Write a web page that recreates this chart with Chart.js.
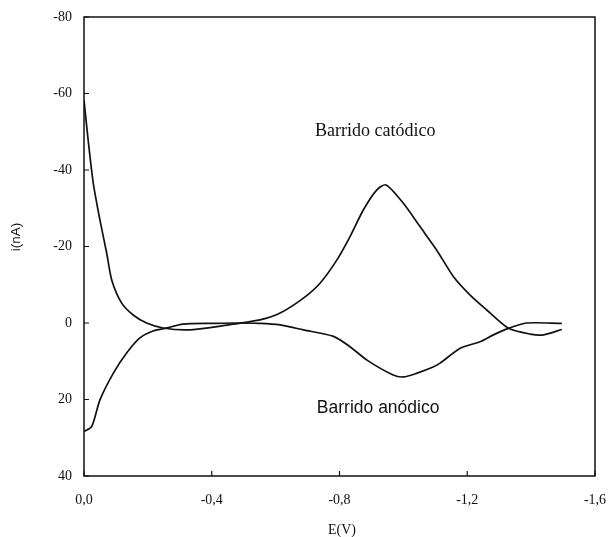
<!DOCTYPE html>
<html>
<head>
<meta charset="utf-8">
<script src="https://cdn.jsdelivr.net/npm/chart.js@4/dist/chart.umd.min.js"></script>
<style>
  html, body { margin: 0; padding: 0; background: #fff; }
  #wrap { width: 608px; height: 537px; }
</style>
</head>
<body>
<div id="wrap"><canvas id="cv" width="608" height="537"></canvas></div>
<script>
  "use strict";

  // Cathodic sweep: potential (V) and current (nA)
  var cathodicE = [0, -0.013, -0.029, -0.05, -0.071, -0.087, -0.118, -0.154, -0.196, -0.248,
    -0.322, -0.404, -0.467, -0.551, -0.614, -0.687, -0.739, -0.792, -0.833, -0.875,
    -0.917, -0.946, -1.0, -1.052, -1.104, -1.157, -1.209, -1.261, -1.329, -1.397,
    -1.439, -1.496];
  var cathodicI = [-58.3, -47.8, -36.6, -26.9, -18.3, -11.2, -5.2, -2.1, 0, 1.3,
    1.8, 1.1, 0.3, -0.8, -2.6, -6.5, -10.4, -16.5, -22.6, -29.6,
    -34.8, -36.1, -31.3, -25.2, -19.1, -12.1, -7.3, -3.4, 1.4, 2.9,
    3.1, 1.7];

  // Anodic sweep
  var anodicE = [0, -0.024, -0.05, -0.092, -0.134, -0.175, -0.216, -0.254, -0.31, -0.404,
    -0.467, -0.551, -0.614, -0.687, -0.781, -0.833, -0.886, -0.968, -1.0, -1.043,
    -1.093, -1.115, -1.178, -1.24, -1.282, -1.329, -1.386, -1.496];
  var anodicI = [28.4, 27.1, 20.1, 13.1, 7.8, 3.9, 2.1, 1.4, 0.3, 0.1,
    0, 0.1, 0.5, 1.8, 3.5, 6.2, 9.7, 13.6, 14.1, 13.1,
    11.5, 10.5, 6.6, 4.9, 3.1, 1.4, 0, 0.1];

  var xTicks = [0, -0.4, -0.8, -1.2, -1.6];
  var yTicks = [-80, -60, -40, -20, 0, 20, 40];

  // Curve labels, placed in data units
  var sweepLabels = [
    { text: "Barrido catódico", e: -0.912, i: -50.2, font: "18px 'Liberation Serif'" },
    { text: "Barrido anódico", e: -0.921, i: 22.2, font: "17.5px 'Liberation Sans'" }
  ];

  var ink = "#111";
  var serif = "'Liberation Serif', 'Times New Roman', serif";

  function toPoints(xs, ys) {
    return xs.map(function (x, k) { return { x: x, y: ys[k] }; });
  }

  // Frame, inward tick marks, axis titles and curve labels
  var decor = {
    id: "decor",
    afterDraw: function (chart) {
      var ctx = chart.ctx;
      var a = chart.chartArea;
      var sx = chart.scales.x;
      var sy = chart.scales.y;
      ctx.save();
      ctx.strokeStyle = ink;
      ctx.lineWidth = 1.5;
      ctx.strokeRect(a.left, a.top, a.right - a.left, a.bottom - a.top);

      ctx.lineWidth = 1.2;
      ctx.beginPath();
      xTicks.forEach(function (v) {
        var px = sx.getPixelForValue(v);
        ctx.moveTo(px, a.bottom);
        ctx.lineTo(px, a.bottom - 5);
      });
      yTicks.forEach(function (v) {
        var py = sy.getPixelForValue(v);
        ctx.moveTo(a.left, py);
        ctx.lineTo(a.left + 5, py);
      });
      ctx.stroke();

      ctx.fillStyle = ink;
      ctx.textAlign = "center";
      ctx.textBaseline = "middle";
      ctx.font = "14px " + serif;
      ctx.fillText("E(V)", 342, 530);

      ctx.save();
      ctx.translate(16, 237);
      ctx.rotate(-Math.PI / 2);
      ctx.font = "13.5px 'Liberation Sans', Arial, sans-serif";
      ctx.fillText("i(nA)", 0, 0);
      ctx.restore();

      sweepLabels.forEach(function (l) {
        ctx.font = l.font;
        ctx.fillText(l.text, sx.getPixelForValue(l.e), sy.getPixelForValue(l.i));
      });
      ctx.restore();
    }
  };

  var lineStyle = {
    showLine: true,
    borderColor: ink,
    borderWidth: 1.7,
    pointRadius: 0,
    tension: 0.25,
    fill: false
  };

  new Chart(document.getElementById("cv").getContext("2d"), {
    type: "scatter",
    data: {
      datasets: [
        Object.assign({ label: "Barrido catódico", data: toPoints(cathodicE, cathodicI) }, lineStyle),
        Object.assign({ label: "Barrido anódico", data: toPoints(anodicE, anodicI) }, lineStyle)
      ]
    },
    options: {
      responsive: false,
      animation: false,
      layout: { padding: { left: 0, right: 13, top: 17, bottom: 0 } },
      plugins: {
        legend: { display: false },
        tooltip: { enabled: false }
      },
      scales: {
        x: {
          type: "linear",
          min: -1.6,
          max: 0,
          reverse: true,
          grid: { display: false, drawTicks: false },
          border: { display: false },
          afterBuildTicks: function (s) {
            s.ticks = xTicks.map(function (v) { return { value: v }; });
          },
          afterFit: function (s) {
            s.height = 61;
            s.paddingLeft = 0;
            s.paddingRight = 0;
          },
          ticks: {
            color: ink,
            padding: 16,
            maxRotation: 0,
            font: { family: serif, size: 14 },
            callback: function (v) { return v.toFixed(1).replace(".", ","); }
          }
        },
        y: {
          type: "linear",
          min: -80,
          max: 40,
          reverse: true,
          grid: { display: false, drawTicks: false },
          border: { display: false },
          afterBuildTicks: function (s) {
            s.ticks = yTicks.map(function (v) { return { value: v }; });
          },
          afterFit: function (s) {
            s.width = 84;
            s.paddingTop = 0;
            s.paddingBottom = 0;
          },
          ticks: {
            color: ink,
            padding: 12,
            font: { family: serif, size: 14 },
            callback: function (v) { return String(v); }
          }
        }
      }
    },
    plugins: [decor]
  });
</script>
</body>
</html>
